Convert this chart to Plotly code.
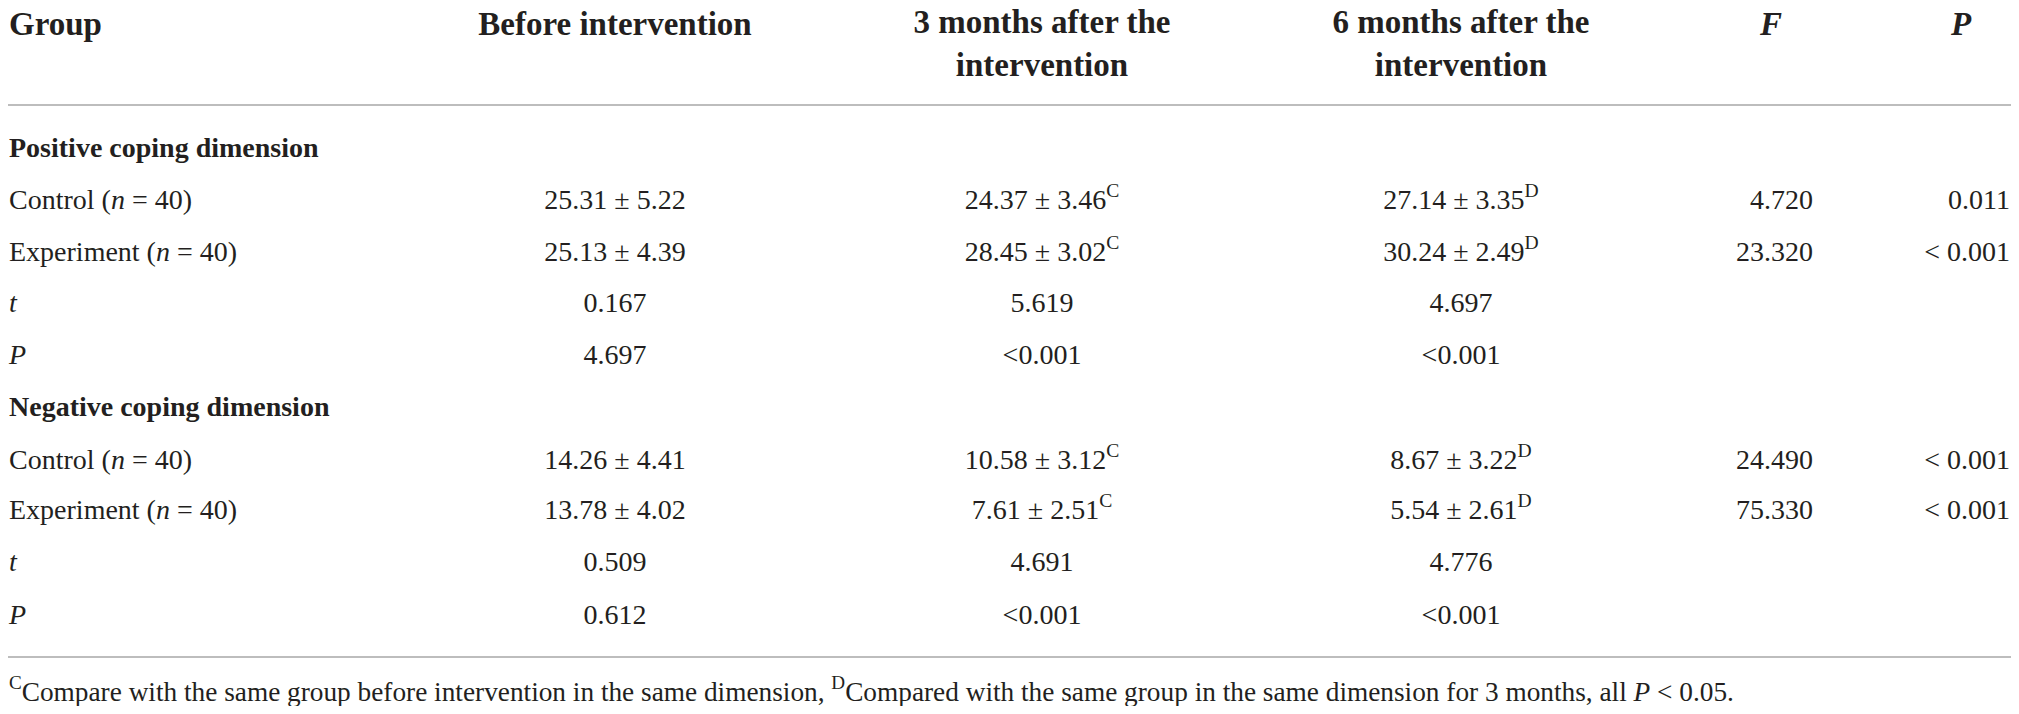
import plotly.graph_objects as go

# table content
header = ["Group", "Before intervention", "3 months after the<br>intervention",
          "6 months after the<br>intervention", "<i>F</i>", "<i>P</i>"]

row_labels = ["<b>Positive coping dimension</b>",
              "Control (<i>n</i> = 40)", "Experiment (<i>n</i> = 40)", "<i>t</i>", "<i>P</i>",
              "<b>Negative coping dimension</b>",
              "Control (<i>n</i> = 40)", "Experiment (<i>n</i> = 40)", "<i>t</i>", "<i>P</i>"]

before = ["", "25.31 ± 5.22", "25.13 ± 4.39", "0.167", "4.697",
          "", "14.26 ± 4.41", "13.78 ± 4.02", "0.509", "0.612"]
after_3m = ["", "24.37 ± 3.46<sup>C</sup>", "28.45 ± 3.02<sup>C</sup>", "5.619", "<0.001",
            "", "10.58 ± 3.12<sup>C</sup>", "7.61 ± 2.51<sup>C</sup>", "4.691", "<0.001"]
after_6m = ["", "27.14 ± 3.35<sup>D</sup>", "30.24 ± 2.49<sup>D</sup>", "4.697", "<0.001",
            "", "8.67 ± 3.22<sup>D</sup>", "5.54 ± 2.61<sup>D</sup>", "4.776", "<0.001"]
f_vals = ["", "4.720", "23.320", "", "", "", "24.490", "75.330", "", ""]
p_vals = ["", "0.011", "< 0.001", "", "", "", "< 0.001", "< 0.001", "", ""]

footnote = ("<sup>C</sup>Compare with the same group before intervention in the same dimension, "
            "<sup>D</sup>Compared with the same group in the same dimension for 3 months, all <i>P</i> < 0.05.")

# layout, in page pixel coordinates of the 2019x714 window
# (the page body has an 8px margin, so the figure is made smaller and the axes offset)
W, H = 2019, 714
OFF = 8
row_y = [150, 202, 254, 305, 357, 409, 462, 512, 564, 617]
col_x = [9, 615, 1042, 1461, 1813, 2010]
col_pos = ["middle right", "middle center", "middle center", "middle center", "middle left", "middle left"]
head_x = [9, 615, 1042, 1461, 1771, 1961]
head_y = [27, 27, 46, 46, 27, 27]
ink = "#231f20"
body_font = dict(family="Liberation Serif", size=28, color=ink)

fig = go.Figure()

# header cells
for i, h in enumerate(header):
    fig.add_trace(go.Scatter(
        x=[head_x[i]], y=[head_y[i]], mode="text", text=["<b>" + h + "</b>"],
        textposition="middle right" if i == 0 else "middle center",
        textfont=dict(family="Liberation Serif", size=33, color=ink),
        cliponaxis=False, hoverinfo="skip", showlegend=False))

# body columns
columns = [row_labels, before, after_3m, after_6m, f_vals, p_vals]
for i, col in enumerate(columns):
    fig.add_trace(go.Scatter(
        x=[col_x[i]] * len(col), y=row_y, mode="text", text=col,
        textposition=col_pos[i], textfont=body_font,
        cliponaxis=False, hoverinfo="skip", showlegend=False))

# footnote
fig.add_trace(go.Scatter(
    x=[9], y=[694], mode="text", text=[footnote], textposition="middle right",
    textfont=dict(family="Liberation Serif", size=27.3, color=ink),
    cliponaxis=False, hoverinfo="skip", showlegend=False))

# horizontal rules
for yy in [105, 657]:
    fig.add_shape(type="line", x0=OFF, x1=2013, y0=yy, y1=yy,
                  line=dict(color="#bdbdbd", width=2))

fig.update_layout(
    width=W - OFF, height=H - 2 * OFF,
    margin=dict(l=0, r=0, t=0, b=0),
    paper_bgcolor="white", plot_bgcolor="white",
    xaxis=dict(range=[OFF, W], visible=False, fixedrange=True),
    yaxis=dict(range=[H - OFF, OFF], visible=False, fixedrange=True),
)

fig.write_html("out.html")
